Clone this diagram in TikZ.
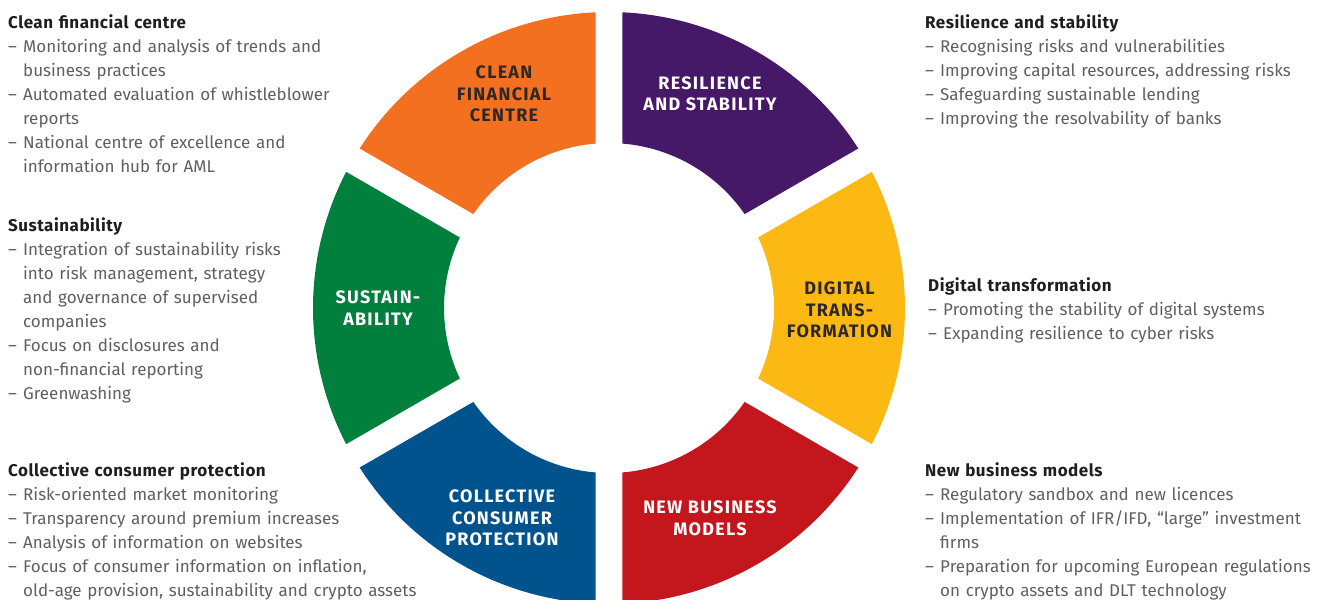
\documentclass[tikz,border=0pt]{standalone}
\usepackage{fontspec}
\setmainfont{Fira Sans}
\usepackage{xcolor}

\definecolor{cfcorange}{RGB}{243,112,33}
\definecolor{raspurple}{RGB}{70,24,104}
\definecolor{dtyellow}{RGB}{252,185,20}
\definecolor{nbmred}{RGB}{196,22,29}
\definecolor{ccpblue}{RGB}{0,83,140}
\definecolor{susgreen}{RGB}{0,127,61}
\definecolor{bodygray}{RGB}{95,95,95}
\definecolor{headblack}{RGB}{30,30,30}
\definecolor{labeldark}{RGB}{45,40,38}

\newcommand{\dashitem}[1]{\par\hangindent=15bp\hangafter=1\makebox[15bp][l]{–}#1\par}
\newcommand{\topichead}[1]{{\color{headblack}\bfseries\addfontfeature{LetterSpace=3}#1}}
\newcommand{\ringpart}[3]{%
  \fill[#3] (#1+\dR:\Rout) arc[start angle=#1+\dR, end angle=#2-\dR, radius=\Rout]
    -- (#2-\dr:\Rin) arc[start angle=#2-\dr, end angle=#1+\dr, radius=\Rin] -- cycle;}

\tikzset{
  ringlabel/.style={align=center, inner sep=0pt,
    font=\fontsize{18bp}{21.5bp}\selectfont\bfseries\addfontfeature{LetterSpace=7}},
  topicblock/.style={anchor=base west, inner sep=0pt, text width=430bp, align=left,
    text=bodygray, font=\fontsize{17bp}{24bp}\selectfont},
}

\begin{document}
\begin{tikzpicture}[x=1bp, y=1bp]
  \useasboundingbox (-609,-292) rectangle (710,308);
  \pgfmathsetmacro{\Rout}{296}
  \pgfmathsetmacro{\Rin}{165}
  \pgfmathsetmacro{\dR}{asin(13.5/\Rout)}
  \pgfmathsetmacro{\dr}{asin(13.5/\Rin)}

  % six parts of the ring, gaps of constant width
  \ringpart{90}{150}{cfcorange}
  \ringpart{30}{90}{raspurple}
  \ringpart{-30}{30}{dtyellow}
  \ringpart{-90}{-30}{nbmred}
  \ringpart{-150}{-90}{ccpblue}
  \ringpart{150}{210}{susgreen}

  \node[ringlabel, text=labeldark] (cfc) at (-105,214) {CLEAN\\FINANCIAL\\CENTRE};
  \node[ringlabel, text=white] (ras) at (101,214) {RESILIENCE\\AND STABILITY};
  \node[ringlabel, text=labeldark] (dt) at (230.5,-2) {DIGITAL\\TRANS-\\FORMATION};
  \node[ringlabel, text=white] (nbm) at (101,-210.5) {NEW BUSINESS\\MODELS};
  \node[ringlabel, text=white] (ccp) at (-107,-210) {COLLECTIVE\\CONSUMER\\PROTECTION};
  \node[ringlabel, text=white] (sus) at (-231,0) {SUSTAIN-\\ABILITY};

  % left column
  \node[topicblock] (cfctext) at (-601,279) {\topichead{Clean financial centre}
    \dashitem{Monitoring and analysis of trends and\newline business practices}
    \dashitem{Automated evaluation of whistleblower\newline reports}
    \dashitem{National centre of excellence and\newline information hub for AML}};
  \node[topicblock] (sustext) at (-601,76) {\topichead{Sustainability}
    \dashitem{Integration of sustainability risks\newline into risk management, strategy\newline and governance of supervised\newline companies}
    \dashitem{Focus on disclosures and\newline non-financial reporting}
    \dashitem{Greenwashing}};
  \node[topicblock] (ccptext) at (-601,-168) {\topichead{Collective consumer protection}
    \dashitem{Risk-oriented market monitoring}
    \dashitem{Transparency around premium increases}
    \dashitem{Analysis of information on websites}
    \dashitem{Focus of consumer information on inflation,\newline old-age provision, sustainability and crypto assets}};

  % right column
  \node[topicblock] (rastext) at (316,279) {\topichead{Resilience and stability}
    \dashitem{Recognising risks and vulnerabilities}
    \dashitem{Improving capital resources, addressing risks}
    \dashitem{Safeguarding sustainable lending}
    \dashitem{Improving the resolvability of banks}};
  \node[topicblock] (dttext) at (319,16) {\topichead{Digital transformation}
    \dashitem{Promoting the stability of digital systems}
    \dashitem{Expanding resilience to cyber risks}};
  \node[topicblock] (nbmtext) at (316,-168) {\topichead{New business models}
    \dashitem{Regulatory sandbox and new licences}
    \dashitem{Implementation of IFR/IFD, “large” investment\newline firms}
    \dashitem{Preparation for upcoming European regulations\newline on crypto assets and DLT technology}};
\end{tikzpicture}
\end{document}
